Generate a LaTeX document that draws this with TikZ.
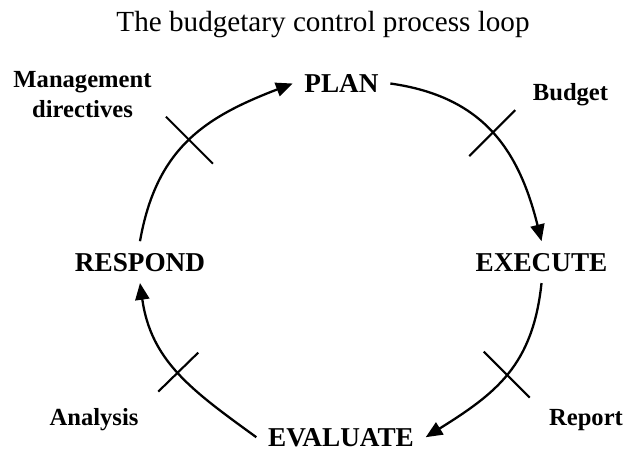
\documentclass[tikz,border=0pt]{standalone}
\usepackage{fontspec}
\setmainfont{Liberation Serif}
\usetikzlibrary{arrows.meta}
\tikzset{
  %% Styles %%
  stage/.style = {font=\fontsize{15.5}{18}\selectfont\bfseries, inner sep=6.5pt, anchor=base},
  flow/.style = {font=\fontsize{14}{17}\selectfont\bfseries, inner sep=0pt, align=center},
  looparrow/.style = {line width=1.3pt, -{Triangle[length=9.5pt, width=8pt]}},
  cut/.style = {line width=1.2pt},
}

\begin{document}
\begin{tikzpicture}
  \useasboundingbox (0,0) rectangle (12.54,9);
  \node[font=\fontsize{16.6}{20}\selectfont, anchor=base] (title) at (6.46,8.36) {The budgetary control process loop};

  % Stages
  \node[stage] (plan) at (6.83,7.15) {PLAN};
  \node[stage] (execute) at (10.83,3.58) {EXECUTE};
  \node[stage] (evaluate) at (6.82,0.08) {EVALUATE};
  \node[stage] (respond) at (2.80,3.58) {RESPOND};

  % Flows
  \node[flow] (directives) at (1.65,7.1) {Management\\directives};
  \node[flow, anchor=base] (budget) at (11.41,6.98) {Budget};
  \node[flow, anchor=base] (report) at (11.72,0.5) {Report};
  \node[flow, anchor=base] (analysis) at (1.88,0.5) {Analysis};

  % Loop
  \draw[looparrow] (respond.north) to[out=80, in=201, looseness=1.1] coordinate[pos=0.5] (dircut) (plan.west);
  \draw[looparrow] (plan.east) to[out=-8, in=104, looseness=1.1] coordinate[pos=0.5] (budcut) (execute.north);
  \draw[looparrow] (execute.south) to[out=264, in=32, looseness=1.1] coordinate[pos=0.5] (repcut) (evaluate.east);
  \draw[looparrow] (evaluate.west) to[out=144, in=278, looseness=1.05] coordinate[pos=0.5] (anacut) (respond.south);

  % Cuts
  \draw[cut] (dircut) ++(-0.47,0.47) -- ++(0.94,-0.94);
  \draw[cut] (budcut) ++(-0.46,-0.46) -- ++(0.92,0.92);
  \draw[cut] (repcut) ++(-0.46,0.46) -- ++(0.92,-0.92);
  \draw[cut] (anacut) ++(-0.40,-0.39) -- ++(0.80,0.78);
\end{tikzpicture}
\end{document}
